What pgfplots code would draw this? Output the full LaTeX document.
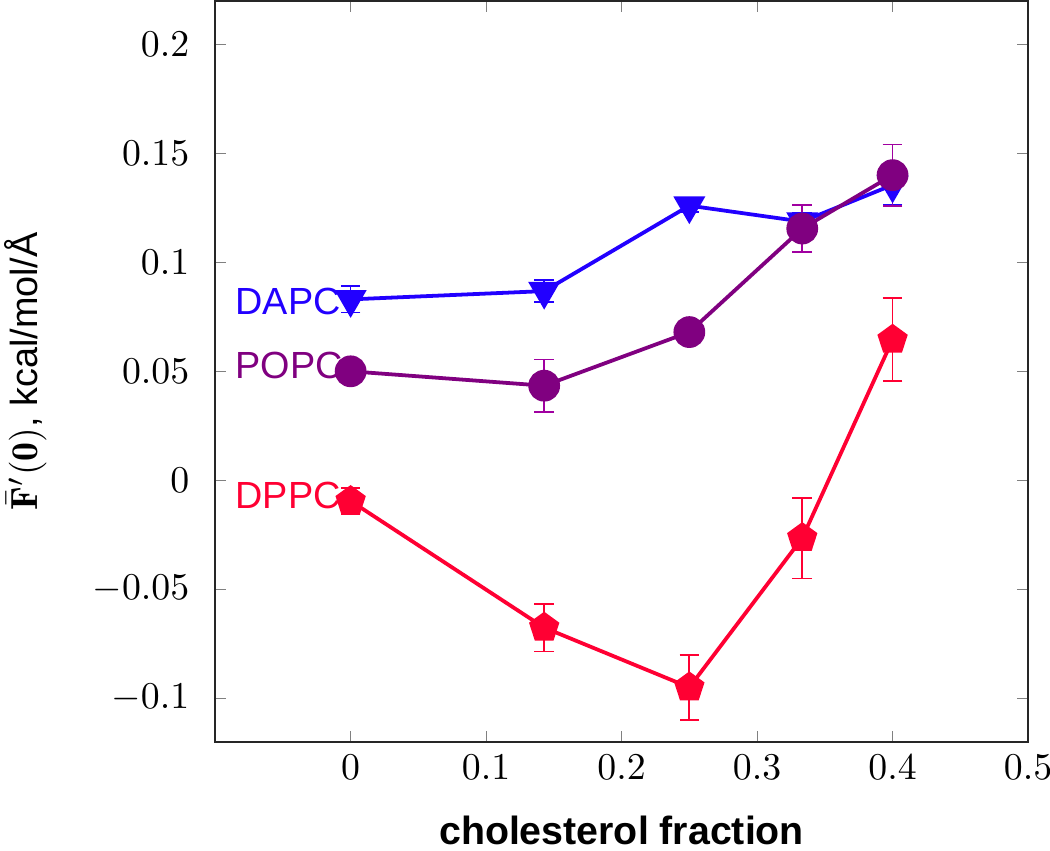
\documentclass[border=0pt]{standalone}
\usepackage{pgfplots}
\pgfplotsset{compat=1.18}
\usepackage{fontspec}
\setsansfont{Liberation Sans}

\definecolor{dapc}{RGB}{34,0,255}
\definecolor{popc}{RGB}{128,0,128}
\definecolor{dppc}{RGB}{255,0,51}

% x = cholesterol fraction, y = F'(0), e = error
\pgfplotstableread{
x y e
0 0.0830 0.006
0.142857 0.0868 0.005
0.25 0.1260 0.003
0.333333 0.1187 0.004
0.4 0.1355 0.009
}\dapc
\pgfplotstableread{
x y e
0 0.0500 0.002
0.142857 0.0434 0.012
0.25 0.0680 0.005
0.333333 0.1155 0.0107
0.4 0.1400 0.014
}\popc
\pgfplotstableread{
x y e
0 -0.0095 0.006
0.142857 -0.0676 0.011
0.25 -0.0950 0.015
0.333333 -0.0265 0.0185
0.4 0.0645 0.019
}\dppc

\begin{document}
\begin{tikzpicture}
\begin{axis}[
  width=215pt, height=196pt, scale only axis,
  xmin=-0.1, xmax=0.5, ymin=-0.12, ymax=0.22,
  xtick={0,0.1,0.2,0.3,0.4,0.5},
  ytick={-0.1,-0.05,0,0.05,0.1,0.15,0.2},
  scaled ticks=false,
  tick label style={/pgf/number format/fixed, /pgf/number format/precision=2},
  xticklabel style={inner xsep=0pt},
  yticklabel style={xshift=-3.3pt},
  tick align=inside, major tick length=3pt,
  axis line style={black!85},
  xlabel={\sffamily\bfseries\fontsize{10.4}{12}\selectfont cholesterol fraction},
  xlabel style={at={(axis description cs:0.5,-0.1385)}, anchor=base, inner sep=0pt},
  ylabel={$\bar{\mathbf{F}}'(\mathbf{0})$\textsf{, kcal/mol/Å}},
  ylabel style={at={(axis description cs:-0.2191,0.5)}, anchor=base, inner sep=0pt},
  error bars/y dir=both, error bars/y explicit,
]
\addplot[dapc, line width=1pt, mark=triangle*, mark size=3.9pt,
  mark options={rotate=180},
  error bars/error bar style={line width=0.45pt},
  error bars/error mark options={mark size=2.6pt, line width=0.45pt, rotate=90}]
  table[x=x, y=y, y error=e] {\dapc};
\addplot[popc, line width=1pt, mark=*, mark size=3.7pt,
  error bars/error bar style={popc!75!magenta, line width=0.45pt},
  error bars/error mark options={mark size=2.6pt, line width=0.45pt, rotate=90}]
  table[x=x, y=y, y error=e] {\popc};
\addplot[dppc, line width=1pt, mark=pentagon*, mark size=3.6pt,
  error bars/error bar style={line width=0.45pt},
  error bars/error mark options={mark size=2.6pt, line width=0.45pt, rotate=90}]
  table[x=x, y=y, y error=e] {\dppc};
\node[anchor=west, inner sep=0pt, text=dapc, font=\sffamily] at (axis cs:-0.0855,0.0822) {DAPC};
\node[anchor=west, inner sep=0pt, text=popc, font=\sffamily] at (axis cs:-0.0855,0.0525) {POPC};
\node[anchor=west, inner sep=0pt, text=dppc, font=\sffamily] at (axis cs:-0.0855,-0.0068) {DPPC};
\coordinate (ll) at (rel axis cs:0,0);
\coordinate (ur) at (rel axis cs:1,1);
\end{axis}
\pgfresetboundingbox
\path ([shift={(-56.9pt,-28.8pt)}]ll) rectangle ([shift={(5.8pt,0.2pt)}]ur);
\end{tikzpicture}
\end{document}
